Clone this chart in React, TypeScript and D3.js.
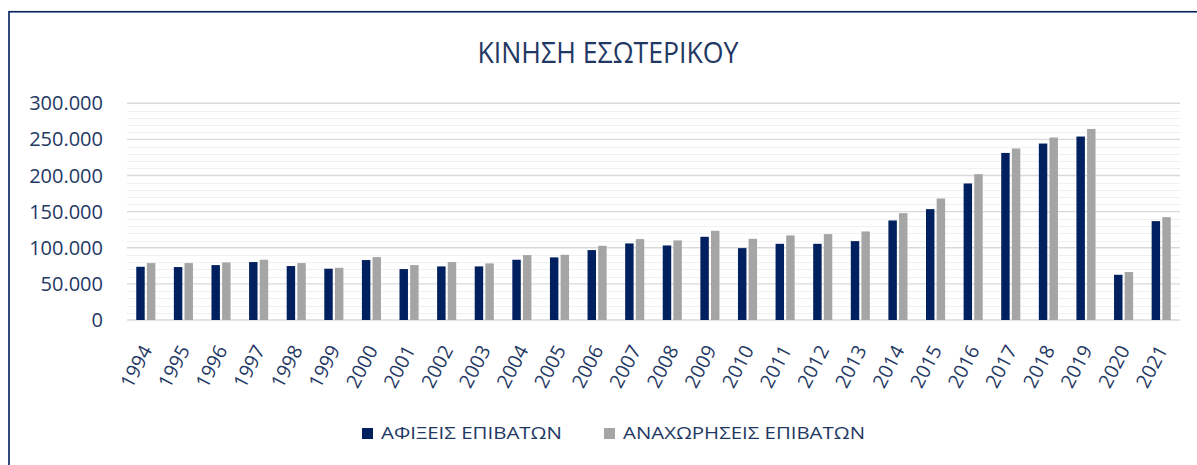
import React, { useEffect } from "react";
import * as d3 from "d3";

const years = ["1994","1995","1996","1997","1998","1999","2000","2001","2002","2003","2004","2005","2006","2007","2008","2009","2010","2011","2012","2013","2014","2015","2016","2017","2018","2019","2020","2021"];
const arrivals = [73700,73300,76000,80200,74700,71000,83000,70500,74200,74200,83400,86700,96800,106000,103200,115200,99500,105500,105500,109200,137800,153500,189000,231300,244300,254000,62600,136900];
const departures = [78800,78800,79700,83400,78800,72300,87100,76000,80200,78400,89900,90300,102700,112000,110200,123500,112400,117100,118900,122600,147900,168200,201900,237400,252600,264500,66400,142400];
const seriesNames = ["ΑΦΙΞΕΙΣ ΕΠΙΒΑΤΩΝ", "ΑΝΑΧΩΡΗΣΕΙΣ ΕΠΙΒΑΤΩΝ"];
const title = "ΚΙΝΗΣΗ ΕΣΩΤΕΡΙΚΟΥ";
const majorTicks = [0, 50000, 100000, 150000, 200000, 250000, 300000];
const minorTicks = d3.range(0, 300001, 10000);

const W = 1197, H = 465;
const left = 127, right = 1180, top = 103.3, bottom = 320;
const colors = ["#002060", "#A5A5A5"];
const textColor = "#1F3864";
const font = "'Open Sans', sans-serif";

export default function App() {
  useEffect(() => {
    document.body.style.margin = "0";
  }, []);

  const x = d3.scaleBand().domain(years).range([left, right]).padding(0);
  const inner = d3.scaleBand().domain(["a", "d"]).range([0, x.step()]).paddingInner(0.206).paddingOuter(0.87);
  const y = d3.scaleLinear().domain([0, 300000]).range([bottom, top]);
  const fmt = (v: number) => d3.format(",")(v).replace(/,/g, ".");

  return (
    <svg width={W} height={H} style={{ display: "block", background: "#fff" }}>
      <rect x={9} y={11.75} width={1300} height={600} fill="none" stroke="#002060" strokeWidth={1.6} />
      <text x={608} y={63.3} textAnchor="middle" fontFamily={font} fontSize={29} fill={textColor} textLength={261} lengthAdjust="spacingAndGlyphs">{title}</text>
      {minorTicks.filter(t => t % 50000 !== 0).map(t => (
        <line key={"m" + t} x1={left} x2={right} y1={Math.round(y(t)) + 0.5} y2={Math.round(y(t)) + 0.5} stroke="#F0F0F0" strokeWidth={1.2} />
      ))}
      {majorTicks.map(t => (
        <line key={"M" + t} x1={left} x2={right} y1={y(t)} y2={y(t)} stroke="#D9D9D9" strokeWidth={t === 0 ? 1.6 : 1.4} />
      ))}
      {majorTicks.map(t => (
        <text key={"yl" + t} x={103} y={y(t) + 7} textAnchor="end" fontFamily={font} fontSize={20} fill={textColor}>{fmt(t)}</text>
      ))}
      {years.map((yr, i) => (
        <g key={yr}>
          <rect x={(x(yr) as number) + (inner("a") as number)} y={y(arrivals[i])} width={inner.bandwidth()} height={bottom - y(arrivals[i])} fill={colors[0]} />
          <rect x={(x(yr) as number) + (inner("d") as number)} y={y(departures[i])} width={inner.bandwidth()} height={bottom - y(departures[i])} fill={colors[1]} />
        </g>
      ))}
      {years.map(yr => {
        const cx = (x(yr) as number) + x.bandwidth() / 2 + 7;
        return (
          <text key={"xl" + yr} transform={`translate(${cx},350) rotate(-62)`} textAnchor="end" fontFamily={font} fontSize={19.5} fill={textColor}>{yr}</text>
        );
      })}
      <rect x={362} y={428} width={11} height={11} fill={colors[0]} />
      <text x={381} y={439.3} fontFamily={font} fontSize={16.5} fill={textColor} textLength={181} lengthAdjust="spacingAndGlyphs">{seriesNames[0]}</text>
      <rect x={604} y={428} width={11} height={11} fill={colors[1]} />
      <text x={623} y={439.3} fontFamily={font} fontSize={16.5} fill={textColor} textLength={242} lengthAdjust="spacingAndGlyphs">{seriesNames[1]}</text>
    </svg>
  );
}
